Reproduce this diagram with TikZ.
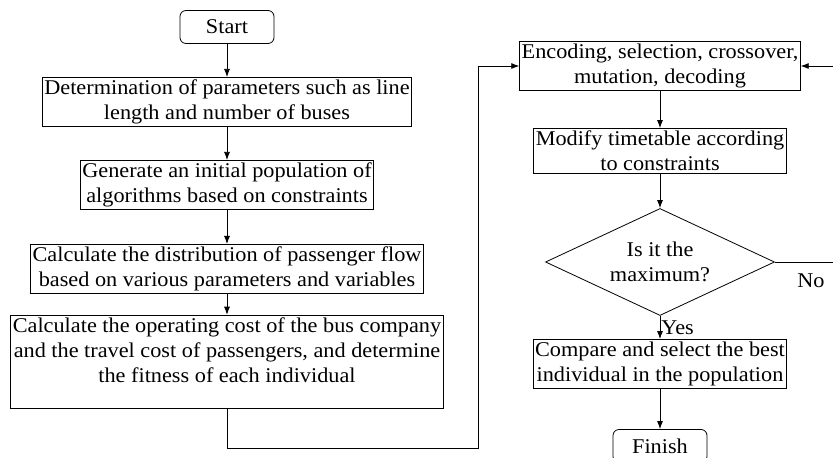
\documentclass[tikz,border=0pt]{standalone}
\usepackage{fontspec}
\setmainfont[FakeStretch=1.06]{Liberation Serif}
\usetikzlibrary{shapes.geometric,arrows.meta}
\tikzset{
  txt/.style={font=\fontsize{21}{25}\selectfont, align=center},
  proc/.style={txt, draw, line width=0.8pt, inner xsep=2pt, inner ysep=2.5pt},
  term/.style={txt, draw, line width=0.8pt, rounded corners=6pt, minimum width=94pt, minimum height=33pt},
  decide/.style={txt, draw, line width=0.8pt, diamond, aspect=2.14, inner sep=0pt, minimum width=229pt, minimum height=107pt},
  arr/.style={line width=0.8pt, -{Latex[length=8pt,width=6pt]}},
}
\begin{document}
\begin{tikzpicture}[x=1pt, y=-1pt]
    \useasboundingbox (0,0) rectangle (833,458);

    % left column
    \node[term] (start) at (227,27) {Start};
    \node[proc] (param) at (227,102) {Determination of parameters such as line\\ length and number of buses};
    \node[proc] (init) at (227,185) {Generate an initial population of\\ algorithms based on constraints};
    \node[proc] (flow) at (227,269) {Calculate the distribution of passenger flow\\ based on various parameters and variables};
    \node[proc, text depth=24pt] (cost) at (227,362) {Calculate the operating cost of the bus company\\ and the travel cost of passengers, and determine\\ the fitness of each individual};

    % right column
    \node[proc] (ga) at (660,66) {Encoding, selection, crossover,\\ mutation, decoding};
    \node[proc] (modify) at (660,151) {Modify timetable according\\ to constraints};
    \node[decide] (max) at (660,262) {Is it the\\ maximum?};
    \node[proc] (best) at (660,364) {Compare and select the best\\ individual in the population};
    \node[term] (finish) at (660,446) {Finish};

    \coordinate (low) at (478,448);% turn under the left column
    \coordinate (back) at (845,262);% loop past the right edge

    \draw[arr] (start) -- (param);
    \draw[arr] (param) -- (init);
    \draw[arr] (init) -- (flow);
    \draw[arr] (flow) -- (cost);
    \draw[arr] (cost.south) |- (low) |- (ga.west);

    \draw[arr] (ga) -- (modify);
    \draw[arr] (modify) -- (max);
    \draw[arr] (max.south) -- node[txt, right, inner sep=1pt] (yes) {Yes} (best.north);
    \draw[arr] (best) -- (finish);
    \draw[arr] (max.east) -- (back) |- (ga.east);
    \node[txt] (no) at (811,281) {No};
\end{tikzpicture}
\end{document}
